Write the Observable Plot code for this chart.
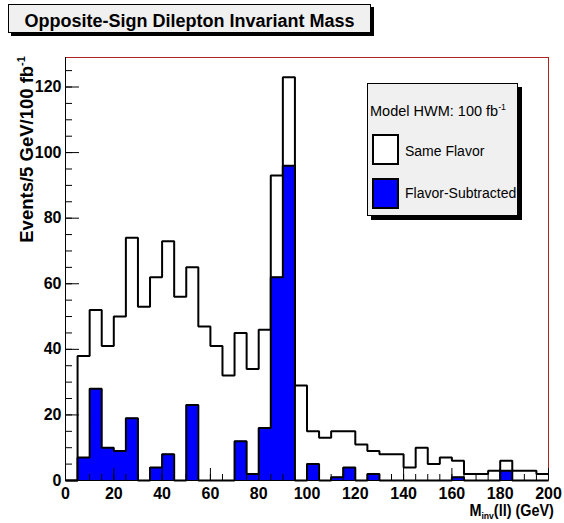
<!DOCTYPE html>
<html><head><meta charset="utf-8">
<script src="https://cdn.jsdelivr.net/npm/d3@7"></script>
<script src="https://cdn.jsdelivr.net/npm/@observablehq/plot@0.6"></script>
<style>
body{margin:0;background:#fff;}
#wrap{position:relative;width:564px;height:523px;font-family:"Liberation Sans",Arial,sans-serif;color:#000;overflow:hidden;}
#wrap svg{position:absolute;left:0;top:0;}
.abs{position:absolute;white-space:nowrap;}
#titlebox{left:8px;top:4px;width:363px;height:29px;box-sizing:border-box;background:#f0f0f0;border:1px solid #000;box-shadow:3px 3px 0 #000;}
#title{left:8px;width:363px;text-align:center;top:11.5px;font-size:18px;line-height:18px;font-weight:bold;}
#legbox{left:367px;top:83px;width:151px;height:133px;box-sizing:border-box;background:#f0f0f0;border:1px solid #000;box-shadow:4px 4px 0 #000;}
.sw{left:372px;width:27px;height:31px;box-sizing:border-box;border:2px solid #000;}
.lt{font-size:14px;line-height:14px;}
sup{font-size:60%;vertical-align:0;position:relative;top:-0.7em;}
sub{font-size:60%;vertical-align:0;position:relative;top:0.35em;}
#ylab{left:17px;top:356px;width:300px;height:20px;line-height:20px;font-size:18.5px;font-weight:bold;text-align:right;transform-origin:0 0;transform:rotate(-90deg);}
#xlab{right:10px;top:503px;font-size:16px;line-height:16px;font-weight:bold;transform-origin:100% 50%;transform:scaleX(0.9);}
</style></head><body>
<div id="wrap"></div>
<script>
// bin lower edges (GeV), bin width 5 GeV
const binLow = [0,5,10,15,20,25,30,35,40,45,50,55,60,65,70,75,80,85,90,95,
                100,105,110,115,120,125,130,135,140,145,150,155,160,165,170,175,180,185,190,195];
const binWidth = 5;
// Same Flavor (events per bin)
const sameFlavor = [0,38,52,41,50,74,53,62,73,56,65,47,41,32,45,34,46,93,123,29,
                    15,13,15,15,11,9,8,8,4,10,5,7,6,2,2,3,6,3,3,2];
// Flavor-Subtracted (events per bin)
const flavorSub = [0,7,28,10,9,19,0,4,8,0,23,0,0,0,12,2,16,62,96,0,
                   5,0,1,4,0,2,0,0,0,0,0,0,1,0,0,0,3,0,0,0];
const xMajor = [0,20,40,60,80,100,120,140,160,180,200];
const xMinor = [0,5,10,15,20,25,30,35,40,45,50,55,60,65,70,75,80,85,90,95,100,105,110,115,120,125,130,135,140,145,150,155,160,165,170,175,180,185,190,195,200];
const yMajor = [0,20,40,60,80,100,120];
const yMinor = [0,5,10,15,20,25,30,35,40,45,50,55,60,65,70,75,80,85,90,95,100,105,110,115,120,125];

const titleText = "Opposite-Sign Dilepton Invariant Mass";
const legendHeader = "Model HWM: 100 fb";
const seriesNames = ["Same Flavor", "Flavor-Subtracted"];
const seriesColors = ["#ffffff", "#0000ff"];

const W = 564, H = 523, mL = 65, mR = 16, mT = 57, mB = 43;
const frameW = W - mL - mR, frameH = H - mT - mB;
const xEnd = binLow[binLow.length - 1] + binWidth;
const steps = vals => binLow.map((x, i) => ({x, y: vals[i]})).concat([{x: xEnd, y: vals[vals.length - 1]}]);
const sameSteps = steps(sameFlavor), subSteps = steps(flavorSub);

const font = '"Liberation Sans", Arial, sans-serif';
const plot = Plot.plot({
  width: W, height: H,
  marginLeft: mL, marginRight: mR, marginTop: mT, marginBottom: mB,
  x: {domain: [0, xEnd], axis: null},
  y: {domain: [0, 129], axis: null},
  style: {fontFamily: font, fontSize: "16px", background: "transparent", color: "#000"},
  marks: [
    Plot.frame({stroke: "#b22222", strokeWidth: 1}),
    Plot.line(sameSteps, {x: "x", y: "y", curve: "step-after", stroke: "#000", strokeWidth: 2, strokeLinejoin: "miter", strokeLinecap: "butt"}),
    Plot.areaY(subSteps, {x: "x", y: "y", curve: "step-after", fill: seriesColors[1]}),
    Plot.line(subSteps, {x: "x", y: "y", curve: "step-after", stroke: "#000", strokeWidth: 2, strokeLinejoin: "miter", strokeLinecap: "butt"}),
    Plot.tickY(yMinor, {y: d => d, insetRight: frameW - 7, stroke: "#000"}),
    Plot.tickY(yMajor, {y: d => d, insetRight: frameW - 14, stroke: "#000"}),
    Plot.tickX(xMinor, {x: d => d, insetTop: frameH - 6, stroke: "#000"}),
    Plot.tickX(xMajor, {x: d => d, insetTop: frameH - 12, stroke: "#000"}),
    Plot.ruleX([0], {stroke: "#000"}),
    Plot.ruleY([0], {stroke: "#000"}),
    Plot.text(yMajor, {y: d => d, text: d => String(d), frameAnchor: "left", textAnchor: "end", dx: -4, fontSize: 16, fontWeight: "bold", fill: "#000"}),
    Plot.text(xMajor, {x: d => d, text: d => String(d), frameAnchor: "bottom", lineAnchor: "top", dy: 7, fontSize: 16, fontWeight: "bold", fill: "#000"})
  ]
});
const wrap = document.getElementById("wrap");
wrap.appendChild(plot);

function add(html, id, cls, style) {
  const d = document.createElement("div");
  if (id) d.id = id;
  d.className = "abs" + (cls ? " " + cls : "");
  if (style) d.setAttribute("style", style);
  d.innerHTML = html;
  wrap.appendChild(d);
  return d;
}
add("", "titlebox");
add(titleText, "title");
add("", "legbox");
add(legendHeader + "<sup>-1</sup>", null, "lt", "left:370px;top:104px;font-size:14.5px;line-height:14.5px;");
add("", null, "sw", "top:134px;background:" + seriesColors[0] + ";");
add(seriesNames[0], null, "lt", "left:405px;top:144px;");
add("", null, "sw", "top:178px;background:" + seriesColors[1] + ";");
add(seriesNames[1], null, "lt", "left:405px;top:186px;");
add("Events/5 GeV/100 fb<sup>-1</sup>", "ylab");
add("M<sub>inv</sub>(ll) (GeV)", "xlab");
</script>
</body></html>
